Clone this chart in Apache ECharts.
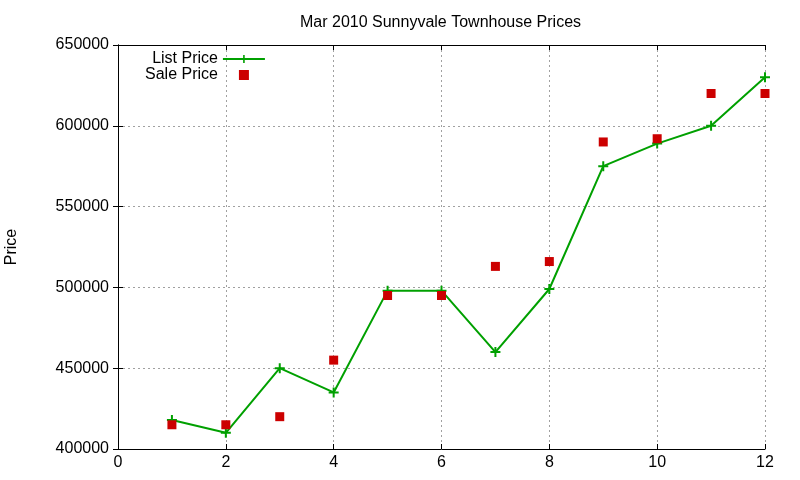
<!DOCTYPE html>
<html lang="en">
<head>
    <meta charset="utf-8">
    <title>Mar 2010 Sunnyvale Townhouse Prices</title>
    <style>
        * {
            margin: 0;
            padding: 0;
        }

        #chart {
            width: 800px;
            height: 480px;
        }
    </style>
</head>
<body>
<div id="chart"></div>
<script src="https://cdn.jsdelivr.net/npm/echarts@6/dist/echarts.min.js"></script>
<script>
    // data
    const months = [1, 2, 3, 4, 5, 6, 7, 8, 9, 10, 11, 12];
    const listPrice = [418000, 410000, 450000, 435000, 498000, 498000, 460000, 499000, 575000, 589000, 600000, 630000];
    const salePrice = [415000, 415000, 420000, 455000, 495000, 495000, 513000, 516000, 590000, 592000, 620000, 620000];

    const FONT = 'Liberation Sans, Arial, sans-serif';
    const plus = 'path://M4,0H6V4H10V6H6V10H4V6H0V4H4Z';
    const square = 'path://M0,0H10V10H0Z';

    const chart = echarts.init(document.getElementById('chart'), null, {renderer: 'canvas'});

    const grid = {left: 118, right: 35, top: 45, bottom: 31, outerBoundsMode: 'none'};
    const split = {show: true, lineStyle: {color: '#a0a0a0', type: [2, 3], width: 1}};
    const axisLine = {show: true, lineStyle: {color: '#000', width: 1}};
    const tick = {show: true, inside: true, length: 5, lineStyle: {color: '#000'}};

    const option = {
        animation: false,
        backgroundColor: '#fff',
        textStyle: {fontFamily: FONT},
        title: {
            text: 'Mar 2010 Sunnyvale Townhouse Prices',
            left: 295,
            top: 10,
            textStyle: {fontFamily: FONT, fontSize: 16, fontWeight: 'normal', color: '#000'}
        },
        legend: {
            orient: 'vertical',
            align: 'right',
            left: 140,
            top: 46,
            itemWidth: 42,
            itemHeight: 10,
            itemGap: 0,
            textStyle: {fontFamily: FONT, fontSize: 16, color: '#000'},
            data: [
                {name: 'List Price'},
                {name: 'Sale Price', icon: square}
            ]
        },
        grid: grid,
        xAxis: [{
            type: 'value',
            min: 0,
            max: 12,
            interval: 2,
            axisLine: axisLine,
            axisTick: tick,
            splitLine: split,
            axisLabel: {color: '#000', fontFamily: FONT, fontSize: 16, margin: 6}
        }, {
            type: 'value',
            position: 'top',
            min: 0,
            max: 12,
            interval: 2,
            axisLine: axisLine,
            axisTick: tick,
            splitLine: {show: false},
            axisLabel: {show: false}
        }],
        yAxis: [{
            type: 'value',
            min: 400000,
            max: 650000,
            interval: 50000,
            name: 'Price',
            nameLocation: 'middle',
            nameGap: 98,
            nameRotate: 90,
            nameTextStyle: {color: '#000', fontFamily: FONT, fontSize: 16},
            axisLine: axisLine,
            axisTick: tick,
            splitLine: split,
            axisLabel: {
                color: '#000', fontFamily: FONT, fontSize: 16, margin: 9,
                formatter: (v) => String(v)
            }
        }, {
            type: 'value',
            position: 'right',
            min: 400000,
            max: 650000,
            interval: 50000,
            axisLine: axisLine,
            axisTick: tick,
            splitLine: {show: false},
            axisLabel: {show: false}
        }],
        series: [{
            name: 'List Price',
            type: 'line',
            data: months.map((m, i) => [m, listPrice[i]]),
            symbol: plus,
            symbolSize: 10,
            showSymbol: true,
            color: '#00a000',
            lineStyle: {color: '#00a000', width: 2},
            itemStyle: {color: '#00a000'},
            z: 3
        }, {
            name: 'Sale Price',
            type: 'scatter',
            data: months.map((m, i) => [m, salePrice[i]]),
            symbol: 'rect',
            symbolSize: 9,
            color: '#cc0000',
            itemStyle: {color: '#cc0000', opacity: 1},
            z: 4
        }]
    };

    chart.setOption(option);
</script>
</body>
</html>
